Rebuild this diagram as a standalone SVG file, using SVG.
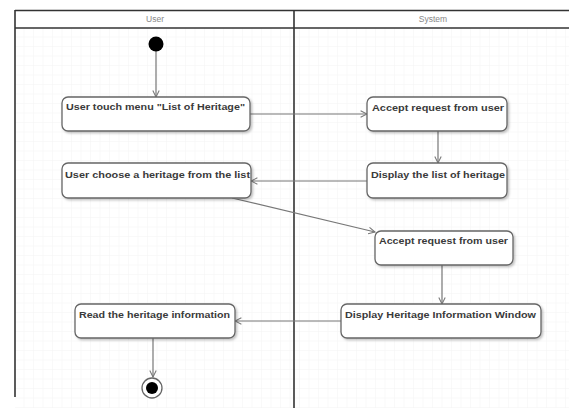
<svg xmlns="http://www.w3.org/2000/svg" width="569" height="408" viewBox="0 0 569 408">
<style>
.frame{stroke:#333;stroke-width:1.6;fill:none}
.lane-title{font-family:"Liberation Sans",Arial,sans-serif;font-size:8.5px;fill:#888;text-anchor:middle}
.box{fill:#fff;stroke:#666;stroke-width:1.3;filter:url(#sh)}
.lbl{font-family:"Liberation Sans",Arial,sans-serif;font-size:9.5px;font-weight:bold;fill:#3a3a3a}
.edge{stroke:#777;stroke-width:1.2;fill:none;marker-end:url(#arr)}
</style>
<defs>
<pattern id="grid" width="9.5" height="9.5" patternUnits="userSpaceOnUse" x="15" y="28">
<path d="M9.5 0 V9.5 M0 9.5 H9.5" stroke="#f1f1f1" stroke-width="0.8" fill="none"/>
</pattern>
<filter id="sh" x="-10%" y="-20%" width="130%" height="160%">
<feDropShadow dx="1.5" dy="1.5" stdDeviation="1" flood-color="#000" flood-opacity="0.25"/>
</filter>
<marker id="arr" viewBox="0 0 10 10" refX="9" refY="5" markerWidth="8" markerHeight="8" orient="auto" markerUnits="userSpaceOnUse">
<path d="M1 1 L9 5 L1 9" fill="none" stroke="#777" stroke-width="1.3"/>
</marker>
</defs>
<rect width="569" height="408" fill="#fff"/>
<rect x="15" y="28" width="554" height="380" fill="url(#grid)"/>
<rect x="15" y="10" width="554" height="18" fill="#fff"/>
<g id="lanes">
<line class="frame" x1="15" y1="10.5" x2="569" y2="10.5"/>
<line class="frame" x1="15" y1="28" x2="569" y2="28"/>
<line class="frame" x1="15" y1="10" x2="15" y2="397"/>
<line class="frame" x1="294" y1="10" x2="294" y2="408"/>
<text class="lane-title" x="155" y="22">User</text>
<text class="lane-title" x="433" y="22">System</text>
</g>
<g id="connectors">
<line class="edge" x1="156" y1="51" x2="156" y2="97"/>
<line class="edge" x1="250" y1="114" x2="367" y2="114"/>
<line class="edge" x1="438" y1="131" x2="438" y2="163"/>
<line class="edge" x1="367" y1="181" x2="251" y2="181"/>
<line class="edge" x1="232" y1="198" x2="375" y2="232"/>
<line class="edge" x1="442" y1="265" x2="442" y2="304"/>
<line class="edge" x1="341" y1="321" x2="235" y2="321"/>
<line class="edge" x1="153" y1="338" x2="153" y2="377"/>
</g>
<g id="start">
<circle cx="156" cy="44" r="7.5" fill="#000"/>
</g>
<g id="n1">
<rect class="box" x="62" y="97" width="188" height="34" rx="6"/>
<text class="lbl" x="66" y="110" textLength="179" lengthAdjust="spacingAndGlyphs">User touch menu "List of Heritage"</text>
</g>
<g id="n2">
<rect class="box" x="367" y="97" width="140" height="34" rx="6"/>
<text class="lbl" x="372" y="111" textLength="132" lengthAdjust="spacingAndGlyphs">Accept request from user</text>
</g>
<g id="n3">
<rect class="box" x="367" y="163" width="140" height="35" rx="6"/>
<text class="lbl" x="371" y="178" textLength="134" lengthAdjust="spacingAndGlyphs">Display the list of heritage</text>
</g>
<g id="n4">
<rect class="box" x="62" y="163" width="189" height="35" rx="6"/>
<text class="lbl" x="65" y="178" textLength="185" lengthAdjust="spacingAndGlyphs">User choose a heritage from the list</text>
</g>
<g id="n5">
<rect class="box" x="375" y="231" width="138" height="34" rx="6"/>
<text class="lbl" x="379" y="244" textLength="129" lengthAdjust="spacingAndGlyphs">Accept request from user</text>
</g>
<g id="n6">
<rect class="box" x="341" y="304" width="200" height="34" rx="6"/>
<text class="lbl" x="345" y="318" textLength="191" lengthAdjust="spacingAndGlyphs">Display Heritage Information Window</text>
</g>
<g id="n7">
<rect class="box" x="75" y="304" width="160" height="34" rx="6"/>
<text class="lbl" x="79" y="318" textLength="151" lengthAdjust="spacingAndGlyphs">Read the heritage information</text>
</g>
<g id="end">
<circle cx="152" cy="388" r="10" fill="#fff" stroke="#666" stroke-width="1.3"/>
<circle cx="152" cy="388" r="6" fill="#000"/>
</g>
</svg>
